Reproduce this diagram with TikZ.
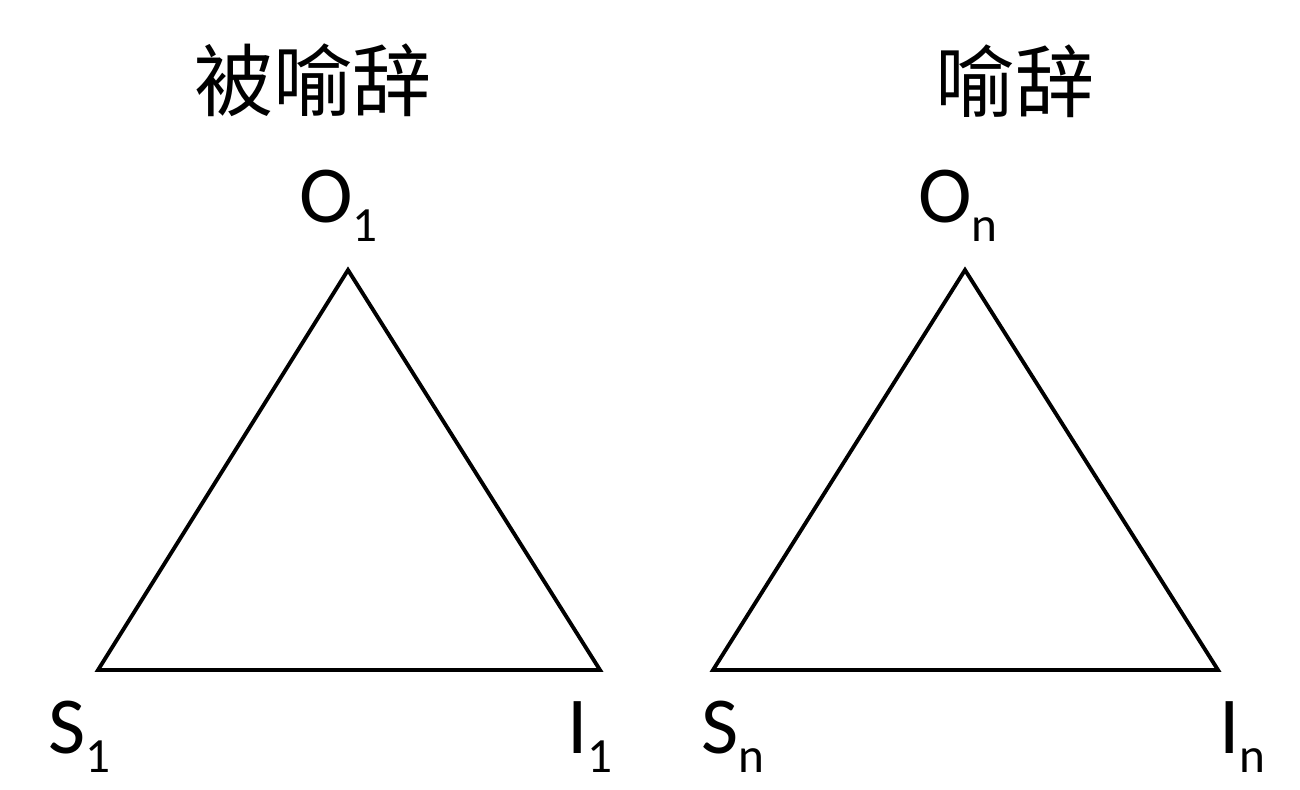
\documentclass[tikz,border=0pt]{standalone}
\usepackage{fontspec}
\setmainfont{Carlito}
\newfontfamily\cjk{Noto Sans CJK SC}
\newcommand{\vlabel}[2]{#1\raisebox{-11pt}{\fontsize{28}{28}\selectfont #2}}
\tikzset{
    side/.style={line width=2.2pt},
    title/.style={font=\cjk\fontsize{45}{45}\selectfont, inner sep=0pt},
    corner/.style={font=\fontsize{46}{46}\selectfont, inner sep=0pt, anchor=base west}
}
\begin{document}
\begin{tikzpicture}[x=0.02cm, y=-0.02cm]
    \useasboundingbox (0,0) rectangle (1300,789);
    % left triangle
    \coordinate (O1) at (348,270);
    \coordinate (S1) at (98,670);
    \coordinate (I1) at (600,670);
    \draw[side] (O1) -- (S1) -- (I1) -- cycle;
    \node[title] (T1) at (313,80) {被喻辞};
    \node[corner] (LO1) at (299,222) {\vlabel{O}{1}};
    \node[corner] (LS1) at (48,753) {\vlabel{S}{1}};
    \node[corner] (LI1) at (567,753) {\vlabel{I}{1}};
    % right triangle
    \coordinate (On) at (965,270);
    \coordinate (Sn) at (713,670);
    \coordinate (In) at (1218,670);
    \draw[side] (On) -- (Sn) -- (In) -- cycle;
    \node[title] (Tn) at (1015,81) {喻辞};
    \node[corner] (LOn) at (918,222) {\vlabel{O}{n}};
    \node[corner] (LSn) at (701,753) {\vlabel{S}{n}};
    \node[corner] (LIn) at (1219,753) {\vlabel{I}{n}};
\end{tikzpicture}
\end{document}
